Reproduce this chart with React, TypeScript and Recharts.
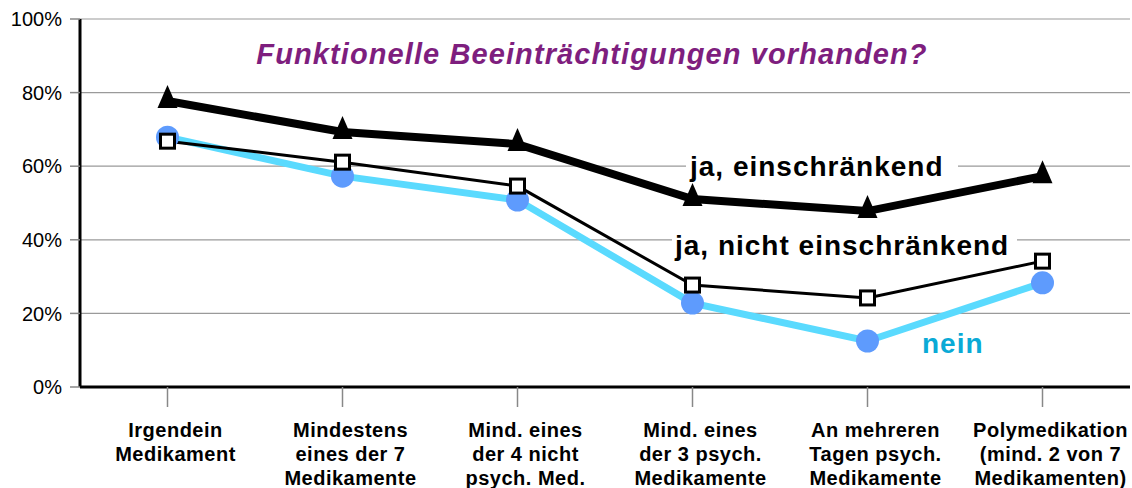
import React from "react";
import { LineChart, Line, XAxis, YAxis, CartesianGrid } from "recharts";

const categories = [
  ["Irgendein", "Medikament"],
  ["Mindestens", "eines der 7", "Medikamente"],
  ["Mind. eines", "der 4 nicht", "psych. Med."],
  ["Mind. eines", "der 3 psych.", "Medikamente"],
  ["An mehreren", "Tagen psych.", "Medikamente"],
  ["Polymedikation", "(mind. 2 von 7", "Medikamenten)"],
];

const jaEinschraenkend = [77.7, 69.3, 66.0, 51.1, 47.8, 57.3];
const jaNichtEinschraenkend = [66.8, 61.1, 54.6, 27.7, 24.2, 34.2];
const nein = [67.9, 57.3, 50.8, 22.8, 12.5, 28.3];

const yTicks = [0, 20, 40, 60, 80, 100];

const title = "Funktionelle Beeinträchtigungen vorhanden?";

const data = categories.map((c, i) => ({
  name: c.join(" "),
  ja: jaEinschraenkend[i],
  nicht: jaNichtEinschraenkend[i],
  nein: nein[i],
}));

const FONT = "'Liberation Sans', Arial, Helvetica, sans-serif";

const TriangleDot = (props: any) => {
  const { cx, cy, index } = props;
  if (cx == null || cy == null) return null;
  return (
    <polygon
      key={`tri-${index}`}
      points={`${cx},${cy - 16} ${cx - 10},${cy + 7} ${cx + 10},${cy + 7}`}
      fill="#000"
    />
  );
};

const SquareDot = (props: any) => {
  const { cx, cy, index } = props;
  if (cx == null || cy == null) return null;
  return (
    <rect
      key={`sq-${index}`}
      x={cx - 7}
      y={cy - 7}
      width={14}
      height={14}
      fill="#fff"
      stroke="#000"
      strokeWidth={3}
    />
  );
};

const CircleDot = (props: any) => {
  const { cx, cy, index } = props;
  if (cx == null || cy == null) return null;
  return <circle key={`ci-${index}`} cx={cx} cy={cy} r={11.5} fill="#5E9BFD" />;
};

const CategoryTick = (props: any) => {
  const { x, y, index } = props;
  const lines = categories[index] || [];
  return (
    <g>
      {lines.map((l, i) => (
        <text
          key={i}
          x={x + 8}
          y={y + 30 + i * 24}
          textAnchor="middle"
          fontFamily={FONT}
          fontWeight="bold"
          fontSize={20}
          letterSpacing={0.5}
          fill="#000"
        >
          {l}
        </text>
      ))}
    </g>
  );
};

export default function App() {
  return (
    <div style={{ position: "absolute", left: 0, top: 0, width: 1132, height: 488, background: "#fff" }}>
      <LineChart
        width={1132}
        height={488}
        data={data}
        margin={{ top: 19, right: 2, bottom: 0, left: 0 }}
      >
        <CartesianGrid horizontal={true} vertical={false} stroke="#9a9a9a" strokeWidth={1.2} />
        <XAxis
          dataKey="name"
          height={101}
          padding={{ left: 87.5, right: 87.5 }}
          axisLine={{ stroke: "#000", strokeWidth: 3 }}
          tickLine={{ stroke: "#888", strokeWidth: 1.5 }}
          tickSize={20}
          tickMargin={0}
          interval={0}
          tick={<CategoryTick />}
        />
        <YAxis
          width={80}
          domain={[0, 100]}
          ticks={yTicks}
          tickFormatter={(v: number) => `${v}%`}
          axisLine={{ stroke: "#000", strokeWidth: 3 }}
          tickLine={{ stroke: "#888", strokeWidth: 1.5 }}
          tickSize={10}
          tickMargin={8}
          tick={{ fill: "#000", fontSize: 20, fontFamily: FONT }}
        />
        <Line
          dataKey="nein"
          stroke="#5ADAFE"
          strokeWidth={7}
          dot={<CircleDot />}
          activeDot={false}
          isAnimationActive={false}
        />
        <Line
          dataKey="nicht"
          stroke="#000"
          strokeWidth={3}
          dot={<SquareDot />}
          activeDot={false}
          isAnimationActive={false}
        />
        <Line
          dataKey="ja"
          stroke="#000"
          strokeWidth={8}
          dot={<TriangleDot />}
          activeDot={false}
          isAnimationActive={false}
        />
      </LineChart>
      <svg
        width={1132}
        height={488}
        style={{ position: "absolute", left: 0, top: 0, pointerEvents: "none" }}
      >
        <text
          x={592}
          y={64}
          textAnchor="middle"
          fontFamily={FONT}
          fontWeight="bold"
          fontStyle="italic"
          fontSize={29}
          letterSpacing={1.1}
          fill="#7E1E7E"
        >
          {title}
        </text>
        <rect x={686} y={150} width={272} height={32} fill="#fff" />
        <text x={690} y={176} fontFamily={FONT} fontWeight="bold" fontSize={28} letterSpacing={1} fill="#000">
          ja, einschränkend
        </text>
        <rect x={672} y={229} width={345} height={32} fill="#fff" />
        <text x={675} y={255} fontFamily={FONT} fontWeight="bold" fontSize={28} letterSpacing={1} fill="#000">
          ja, nicht einschränkend
        </text>
        <text x={922} y={353} fontFamily={FONT} fontWeight="bold" fontSize={28} letterSpacing={1} fill="#0AAAD6">
          nein
        </text>
      </svg>
    </div>
  );
}
